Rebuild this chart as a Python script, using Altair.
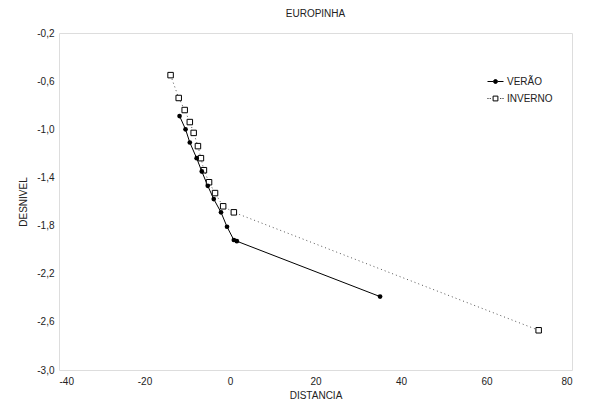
import altair as alt
import pandas as pd

verao_x = [-11.8, -10.4, -9.4, -7.8, -6.6, -5.2, -3.8, -2.1, -0.7, 0.9, 1.6, 35.1]
verao_y = [-0.89, -1.00, -1.11, -1.24, -1.35, -1.47, -1.58, -1.69, -1.81, -1.92, -1.93, -2.39]
inverno_x = [-13.9, -12.0, -10.6, -9.4, -8.5, -7.5, -6.8, -6.1, -4.9, -3.5, -1.6, 0.9, 72.2]
inverno_y = [-0.55, -0.74, -0.84, -0.94, -1.03, -1.14, -1.24, -1.34, -1.44, -1.53, -1.64, -1.69, -2.67]
series_names = ["VERÃO", "INVERNO"]
x_ticks = [-40, -20, 0, 20, 40, 60, 80]
y_ticks = [-0.2, -0.6, -1.0, -1.4, -1.8, -2.2, -2.6, -3.0]

rows = []
for i, (x, y) in enumerate(zip(verao_x, verao_y)):
    rows.append({"serie": series_names[0], "x": x, "y": y, "o": i})
for i, (x, y) in enumerate(zip(inverno_x, inverno_y)):
    rows.append({"serie": series_names[1], "x": x, "y": y, "o": i})
df = pd.DataFrame(rows)

FONT = "Liberation Sans"
TXT = "#222"

xenc = alt.X("x:Q", scale=alt.Scale(domain=[-40, 80], nice=False, zero=False),
             axis=alt.Axis(values=x_ticks, title="DISTANCIA", grid=False, ticks=False,
                           domain=False, labelPadding=6, titlePadding=4,
                           labelExpr="replace(format(datum.value, 'd'), '\u2212', '-')",
                           labelFontSize=10, titleFontSize=10, labelFont=FONT,
                           titleFont=FONT, titleFontWeight="normal",
                           labelColor=TXT, titleColor=TXT))
yenc = alt.Y("y:Q", scale=alt.Scale(domain=[-3.0, -0.2], nice=False, zero=False),
             axis=alt.Axis(values=y_ticks, title="DESNIVEL", grid=False, ticks=False,
                           domain=False, labelPadding=5, titlePadding=8,
                           labelExpr="replace(replace(format(datum.value, '.1f'), '.', ','), '\u2212', '-')",
                           labelFontSize=10, titleFontSize=10, labelFont=FONT,
                           titleFont=FONT, titleFontWeight="normal",
                           labelColor=TXT, titleColor=TXT))

base = alt.Chart(df)

line_v = base.transform_filter(alt.datum.serie == series_names[0]).mark_line(
    color="black", strokeWidth=1).encode(x=xenc, y=yenc, order="o:Q")
line_i = base.transform_filter(alt.datum.serie == series_names[1]).mark_line(
    color="#555", strokeWidth=1, strokeDash=[1, 3]).encode(x=xenc, y=yenc, order="o:Q")

pts_i = base.transform_filter(alt.datum.serie == series_names[1]).mark_point(
    shape="square", size=30, filled=True, fill="white", stroke="black",
    strokeWidth=1, opacity=1).encode(x=xenc, y=yenc)
pts_v = base.transform_filter(alt.datum.serie == series_names[0]).mark_point(
    shape="circle", size=22, filled=True, color="black", opacity=1).encode(x=xenc, y=yenc)

path_v = "M-1,0H-0.3M0.3,0H1M0.25,0A0.25,0.25 0 1,1 -0.25,0A0.25,0.25 0 1,1 0.25,0Z"
path_i = "M-1,0H-0.88M-0.72,0H-0.6M0.6,0H0.72M0.88,0H1M-0.3,-0.3H0.3V0.3H-0.3Z"

leg = alt.Legend(title=None, orient="none", legendX=428, legendY=40,
                 symbolOpacity=1, symbolStrokeWidth=1, symbolSize=256,
                 labelFont=FONT, labelFontSize=10, labelColor=TXT,
                 labelOffset=3, rowPadding=3)

legend_layer = base.mark_point(opacity=0, strokeWidth=1, size=256, filled=True).encode(
    x=xenc, y=yenc,
    shape=alt.Shape("serie:N", scale=alt.Scale(domain=series_names, range=[path_v, path_i]),
                    legend=leg),
    fill=alt.Fill("serie:N", scale=alt.Scale(domain=series_names, range=["black", "white"]),
                  legend=leg),
    stroke=alt.Stroke("serie:N", scale=alt.Scale(domain=series_names, range=["black", "black"]),
                      legend=leg),
)

chart = alt.layer(line_v, line_i, pts_i, pts_v, legend_layer).properties(
    width=513, height=337,
    title=alt.TitleParams("EUROPINHA", fontSize=10, font=FONT, fontWeight="normal",
                          color=TXT, offset=9, frame="group"),
    autosize=alt.AutoSizeParams(type="none"),
    padding={"left": 51, "top": 25, "right": 24, "bottom": 30},
).configure_view(stroke="black", strokeWidth=1).configure(background="white")

chart.save("out.html", embed_options={"renderer": "svg", "actions": False})
